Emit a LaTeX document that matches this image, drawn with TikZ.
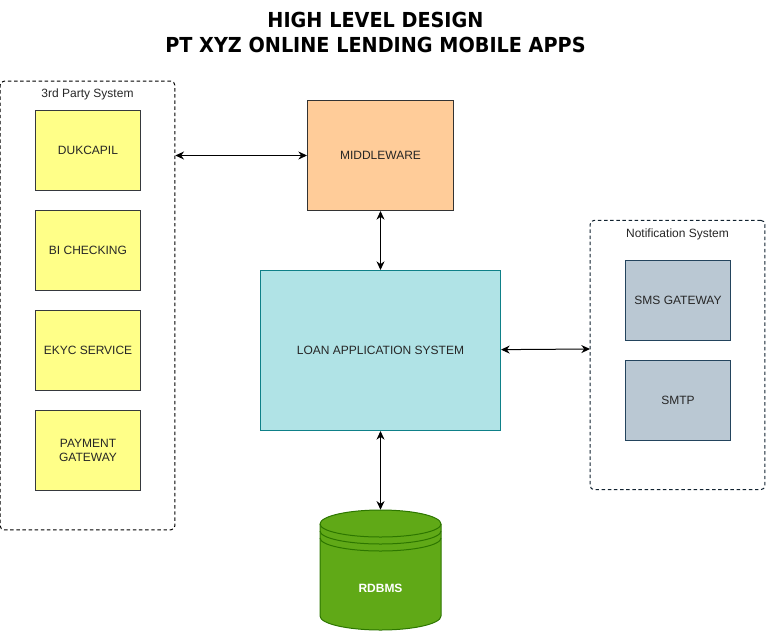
\documentclass[tikz,border=0pt]{standalone}
\usepackage{fontspec}
\setmainfont{Liberation Sans}
\newfontfamily\titlefont[FakeStretch=0.93]{DejaVu Sans}
\usepackage{xcolor}
\usetikzlibrary{arrows.meta}
\definecolor{yellowfill}{HTML}{FFFF88}
\definecolor{yellowline}{HTML}{36393D}
\definecolor{orangefill}{HTML}{FFCC99}
\definecolor{tealfill}{HTML}{B0E3E6}
\definecolor{tealline}{HTML}{0E8088}
\definecolor{greyfill}{HTML}{BAC8D3}
\definecolor{greyline}{HTML}{23445D}
\definecolor{greenfill}{HTML}{60A917}
\definecolor{greenline}{HTML}{2D7600}
\tikzset{
  box/.style = {draw, rectangle, align=center, font=\fontsize{9}{11}\selectfont,
    text=black!85, line width=0.75pt, inner sep=0pt},
  extbox/.style = {box, fill=yellowfill, draw=yellowline, minimum width=79pt, minimum height=59.6pt},
  notifbox/.style = {box, fill=greyfill, draw=greyline, minimum width=79pt, minimum height=59.6pt},
  groupbox/.style = {draw, dash pattern=on 2.6pt off 2pt, rounded corners=3pt, line width=0.75pt, minimum width=131pt, inner sep=0pt},
  grouplabel/.style = {font=\fontsize{9}{11}\selectfont, text=black!85, inner sep=0pt},
  link/.style = {{Stealth[length=6.5pt,width=6pt]}-{Stealth[length=6.5pt,width=6pt]}, line width=0.75pt},
  dbline/.style = {draw=greenline, line width=0.75pt}
}
\begin{document}
\begin{tikzpicture}[x=0.75pt,y=-0.75pt]
  \useasboundingbox (0,0) rectangle (766,631);
  \node [font=\titlefont\bfseries\fontsize{15.5}{18.6}\selectfont, align=center, inner sep=0pt] (title) at (375.5,32.5)
    {HIGH LEVEL DESIGN\\PT XYZ ONLINE LENDING MOBILE APPS};
  % left group
  \node [groupbox, minimum height=336.5pt] (party) at (87.5,305.5) {};
  \node [grouplabel] (partylabel) at (87.5,94) {3rd Party System};
  \node [extbox] (dukcapil) at (88,150.3) {DUKCAPIL};
  \node [extbox] (bi) at (88,250.3) {BI CHECKING};
  \node [extbox] (ekyc) at (88,350.3) {EKYC SERVICE};
  \node [extbox] (payment) at (88,450.3) {PAYMENT\\GATEWAY};
  % right group
  \node [groupbox, draw=greyline!50!black, minimum width=131pt, minimum height=202pt] (notif) at (677.5,355) {};
  \node [grouplabel] (notiflabel) at (677.5,234) {Notification System};
  \node [notifbox] (sms) at (678,300.3) {SMS GATEWAY};
  \node [notifbox] (smtp) at (678,400.3) {SMTP};
  \coordinate (notifin) at (590,349);
  % centre
  \node [box, fill=orangefill, draw=black!80, minimum width=109.5pt, minimum height=82.5pt] (middleware) at (380.5,155.5) {MIDDLEWARE};
  \node [box, fill=tealfill, draw=tealline, minimum width=180pt, minimum height=120pt] (loan) at (380.5,350.5) {LOAN APPLICATION SYSTEM};
  % database
  \node [minimum width=90.75pt, minimum height=90pt, inner sep=0pt] (rdbms) at (380.5,570) {};
  \filldraw [fill=greenfill, dbline] (320,524) arc [x radius=60.5, y radius=14, start angle=180, end angle=360]
    -- (441,616) arc [x radius=60.5, y radius=14, start angle=0, end angle=180] -- cycle;
  \draw [dbline] (320,524) arc [x radius=60.5, y radius=13, start angle=180, end angle=0];
  \draw [dbline] (320,531) arc [x radius=60.5, y radius=13, start angle=180, end angle=0];
  \draw [dbline] (320,538) arc [x radius=60.5, y radius=13, start angle=180, end angle=0];
  \node [font=\bfseries\fontsize{9}{11}\selectfont, text=white, inner sep=0pt] (rdbmslabel) at (380.5,588.5) {RDBMS};
  % links
  \draw [link] (party.east |- middleware) -- (middleware);
  \draw [link] (middleware) -- (loan);
  \draw [link] (loan) -- (rdbms);
  \draw [link] (loan) -- (notifin);
\end{tikzpicture}
\end{document}
